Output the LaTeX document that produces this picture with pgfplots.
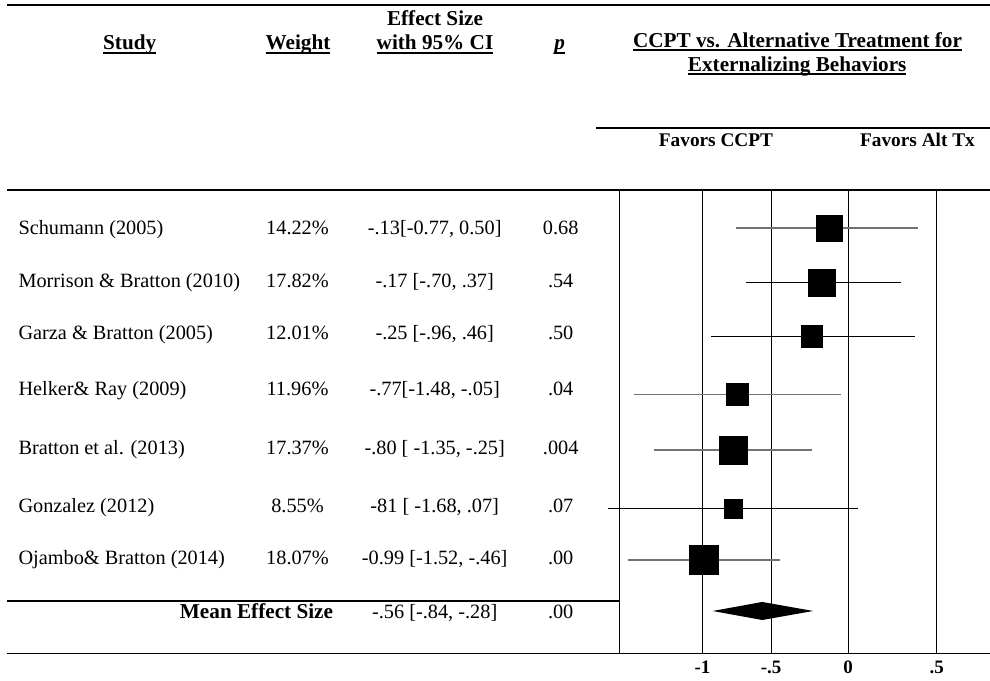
\documentclass[border=0pt]{standalone}
\usepackage{fontspec}
\setmainfont{Liberation Serif}
\usepackage{pgfplots}
\usepackage{pgfplotstable}
\pgfplotsset{compat=1.18}

% thick underline as in the original table
\newcommand{\ul}[1]{\setbox0\hbox{#1}\rlap{\rule[-4pt]{\wd0}{2.4pt}}\box0}

\newcommand{\body}{\fontsize{20.3}{24}\selectfont}
\newcommand{\head}{\bfseries\fontsize{21.2}{25}\selectfont}
\newcommand{\fav}{\bfseries\fontsize{19.3}{23}\selectfont}

% row position as drawn, effect size, CI ends, half side of the box, grey CI line (1) or black (0)
\pgfplotstableread{
row   es    lo    hi    ms   g
1.00 -0.13 -0.77  0.48 12.8 1
2.00 -0.18 -0.70  0.36 13.5 0
2.97 -0.25 -0.94  0.46 10.8 0
4.04 -0.76 -1.47 -0.05 10.8 1
5.06 -0.79 -1.33 -0.25 14.0 1
6.13 -0.79 -1.65  0.07  9.3 0
7.07 -0.99 -1.51 -0.47 14.5 1
}\studies

\begin{document}
\begin{tikzpicture}[x=1pt,y=1pt]
\path[use as bounding box] (0,0) rectangle (990,680);

% rules of the table
\draw[line width=1.4pt] (7,675) -- (990,675);
\draw[line width=1.2pt] (596,552) -- (990,552);
\draw[line width=1.3pt] (7,490) -- (990,490);
\draw[line width=1.1pt] (7,79) -- (619.3,79);
\draw[line width=1.3pt] (7,26.7) -- (990,26.7);

% header
\begin{scope}[every node/.style={inner sep=0pt, anchor=base}]
\node[font=\head] at (129.7,630) {\ul{Study}};
\node[font=\head] at (298,630) {\ul{Weight}};
\node[font=\head] at (435,654) {Effect Size};
\node[font=\head] at (435,630) {\ul{with 95\% CI}};
\node[font=\head] at (559.7,630) {\ul{\textit{p}}};
\node[font=\head] at (797.5,632.5) {\ul{CCPT vs. Alternative Treatment for}};
\node[font=\head] at (797.2,608.5) {\ul{Externalizing Behaviors}};
\node[font=\fav] at (716,533.3) {Favors CCPT};
\node[font=\fav] at (917.5,533.3) {Favors Alt Tx};

% table body
\begin{scope}[font=\body]
\node[anchor=base west] at (18.3,445.7) {Schumann (2005)};
\node[anchor=base west] at (18.3,392.5) {Morrison \& Bratton (2010)};
\node[anchor=base west] at (18.3,340) {Garza \& Bratton (2005)};
\node[anchor=base west] at (18.3,284) {Helker\& Ray (2009)};
\node[anchor=base west] at (18.3,225) {Bratton et al. (2013)};
\node[anchor=base west] at (18.3,167.7) {Gonzalez (2012)};
\node[anchor=base west] at (18.3,115) {Ojambo\& Bratton (2014)};

\node at (297.5,445.7) {14.22\%};
\node at (297.5,392.5) {17.82\%};
\node at (297.5,340) {12.01\%};
\node at (297.5,284) {11.96\%};
\node at (297.5,225) {17.37\%};
\node at (297.5,167.7) {8.55\%};
\node at (297.5,115) {18.07\%};

\node at (434.7,445.7) {-.13[-0.77, 0.50]};
\node at (434.7,392.5) {-.17 [-.70, .37]};
\node at (434.7,340) {-.25 [-.96, .46]};
\node at (434.7,284) {-.77[-1.48, -.05]};
\node at (434.7,225) {-.80 [ -1.35, -.25]};
\node at (434.7,167.7) {-81 [ -1.68, .07]};
\node at (434.7,115) {-0.99 [-1.52, -.46]};
\node at (434.7,61.7) {-.56 [-.84, -.28]};

\node at (560.7,445.7) {0.68};
\node at (560.7,392.5) {.54};
\node at (560.7,340) {.50};
\node at (560.7,284) {.04};
\node at (560.7,225) {.004};
\node at (560.7,167.7) {.07};
\node at (560.7,115) {.00};
\node at (560.7,61.7) {.00};
\end{scope}
\node[font=\head] at (256.5,61.7) {Mean Effect Size};
\end{scope}

\begin{axis}[
  at={(619.33pt,26.7pt)}, anchor=south west,
  scale only axis, width=370.67pt, height=463.3pt,
  xmin=-1.5698, xmax=0.9725,
  ymin=-8.774, ymax=-0.30,
  clip=false,
  axis line style={draw=none},
  ytick=\empty,
  major tick length=0pt,
  xtick={-1,-0.5287,0,0.6064},
  xticklabels={-1,-.5,0,.5},
  xticklabel style={font=\bfseries\fontsize{19}{22}\selectfont, anchor=base, yshift=-19.7pt, inner sep=0pt},
  extra x ticks={-1.5698},
  extra x tick labels={},
  xmajorgrids,
  major grid style={black, line width=1.2pt, solid},
]
% confidence intervals
\addplot[draw=none, mark=none, restrict expr to domain={\thisrow{g}}{0.5:1.5},
  error bars/.cd, x dir=both, x explicit, error mark=none,
  error bar style={draw=black!55, line width=1.7pt, solid}]
  table[x=es, y expr=-\thisrow{row},
        x error plus expr=\thisrow{hi}-\thisrow{es},
        x error minus expr=\thisrow{es}-\thisrow{lo}] {\studies};
\addplot[draw=none, mark=none, restrict expr to domain={\thisrow{g}}{-0.5:0.5},
  error bars/.cd, x dir=both, x explicit, error mark=none,
  error bar style={draw=black, line width=0.9pt, solid}]
  table[x=es, y expr=-\thisrow{row},
        x error plus expr=\thisrow{hi}-\thisrow{es},
        x error minus expr=\thisrow{es}-\thisrow{lo}] {\studies};
% study boxes, size by weight
\addplot[scatter, only marks, mark=square*,
  scatter/use mapped color={draw=black, fill=black},
  visualization depends on={\thisrow{ms} \as \msz},
  scatter/@pre marker code/.append style={/tikz/mark size=\msz}]
  table[x=es, y expr=-\thisrow{row}] {\studies};
% mean effect size
\addplot[fill=black, draw=none] coordinates {(-0.93,-8) (-0.59,-7.835) (-0.24,-8) (-0.59,-8.165)} -- cycle;
\end{axis}
\end{tikzpicture}
\end{document}
